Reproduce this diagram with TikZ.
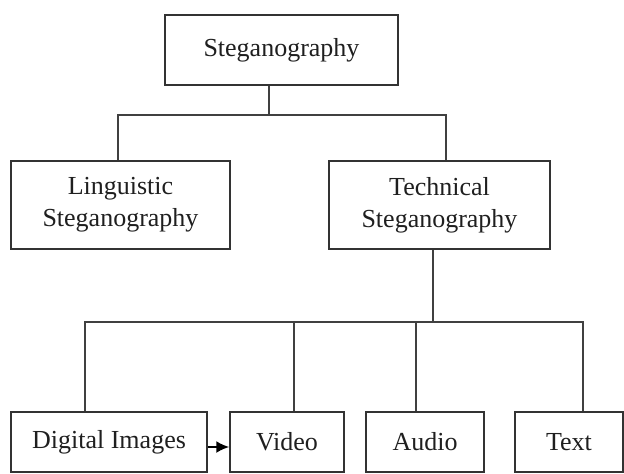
\documentclass[tikz,border=0pt]{standalone}
\usepackage{fontspec}
\setmainfont{Liberation Serif}
\usetikzlibrary{arrows.meta}
\begin{document}
\begin{tikzpicture}[x=1pt,y=-1pt,
  box/.style={draw=black!80,line width=1.5pt,inner sep=0pt,align=center,
    font=\fontsize{26}{32}\selectfont,text=black!88},
  conn/.style={draw=black!75,line width=1.5pt}]
\useasboundingbox (0,0) rectangle (624,474);
\node[box,minimum width=233pt,minimum height=70pt] (steg) at (281.5,50) {Steganography};
\node[box,minimum width=219pt,minimum height=88pt] (ling) at (120.5,205) {Linguistic\\Steganography};
\node[box,minimum width=221pt,minimum height=88pt] (tech) at (439.5,205) {Technical\\Steganography};
\node[box,minimum width=196pt,minimum height=60pt] (dig) at (109,442) {Digital Images};
\node[box,minimum width=114pt,minimum height=60pt] (video) at (287,442) {Video};
\node[box,minimum width=118pt,minimum height=60pt] (audio) at (425,442) {Audio};
\node[box,minimum width=108pt,minimum height=60pt] (text) at (569,442) {Text};
\coordinate (s1) at (269,115);
\coordinate (l1) at (118,115);
\coordinate (t1) at (446,115);
\coordinate (t2) at (433,322);
\coordinate (d1) at (85,322);
\coordinate (v1) at (294,322);
\coordinate (a1) at (416,322);
\coordinate (x1) at (583,322);
\draw[conn] (s1 |- steg.south) -- (s1);
\draw[conn] (l1 |- ling.north) -- (l1) -- (t1) -- (t1 |- tech.north);
\draw[conn] (t2 |- tech.south) -- (t2);
\draw[conn] (d1 |- dig.north) -- (d1) -- (x1) -- (x1 |- text.north);
\draw[conn] (v1) -- (v1 |- video.north);
\draw[conn] (a1) -- (a1 |- audio.north);
\draw[conn,draw=black,line width=2pt,-{Latex[length=13pt,width=12pt]}] ([yshift=-5pt]dig.east) -- ([yshift=-5pt]video.west);
\end{tikzpicture}
\end{document}
